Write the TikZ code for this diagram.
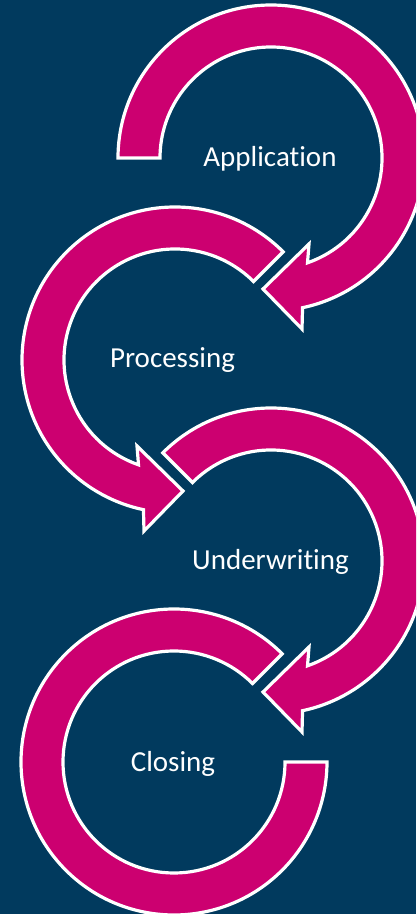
\documentclass[tikz,border=0pt]{standalone}
\usepackage{fontspec}
\setmainfont[Ligatures=NoCommon]{Carlito}
\definecolor{navy}{RGB}{1,58,94}
\definecolor{berry}{RGB}{204,0,112}
\begin{document}
\begin{tikzpicture}[x=1pt,y=1pt,
  arrowband/.style={fill=berry,draw=white,line width=3.2pt,line join=miter},
  steptext/.style={text=white,font=\fontsize{29}{34}\selectfont,anchor=base,inner sep=0pt}]
\useasboundingbox (0,0) rectangle (416,914);
\fill[navy] (0,0) rectangle (416,914);
\clip (0,0) rectangle (416,914);

% Application: clockwise arc from the left, arrowhead at the lower left
\begin{scope}[shift={(271,756)}]
  \path[arrowband] (180:153) arc[start angle=180,end angle=-78.1,radius=153]
    -- (31,-171) -- (-8,-131) -- (38,-86) -- (-70.8:111)
    arc[start angle=-70.8,end angle=180,radius=111] -- cycle;
\end{scope}

% Processing: counter-clockwise arc from the upper right, arrowhead at the lower right
\begin{scope}[shift={(175,554)}]
  \path[arrowband] (45:153) arc[start angle=45,end angle=258.1,radius=153]
    -- (-31,-171) -- (8,-131) -- (-38,-86) -- (250.8:111)
    arc[start angle=250.8,end angle=45,radius=111] -- cycle;
\end{scope}

% Underwriting: clockwise arc from the upper left, arrowhead at the lower left
\begin{scope}[shift={(271,353)}]
  \path[arrowband] (135:153) arc[start angle=135,end angle=-78.1,radius=153]
    -- (31,-171) -- (-8,-131) -- (38,-86) -- (-70.8:111)
    arc[start angle=-70.8,end angle=135,radius=111] -- cycle;
\end{scope}

% Closing: open ring without arrowhead
\begin{scope}[shift={(174,152)}]
  \path[arrowband] (45:153) arc[start angle=45,end angle=360,radius=153]
    -- (0:111) arc[start angle=360,end angle=45,radius=111] -- cycle;
\end{scope}

\node[steptext] (app) at (270,747) {Application};
\node[steptext] (proc) at (172.5,546) {Processing};
\node[steptext] (uw) at (270.5,344) {Underwriting};
\node[steptext] (close) at (173,142) {Closing};
\end{tikzpicture}
\end{document}
